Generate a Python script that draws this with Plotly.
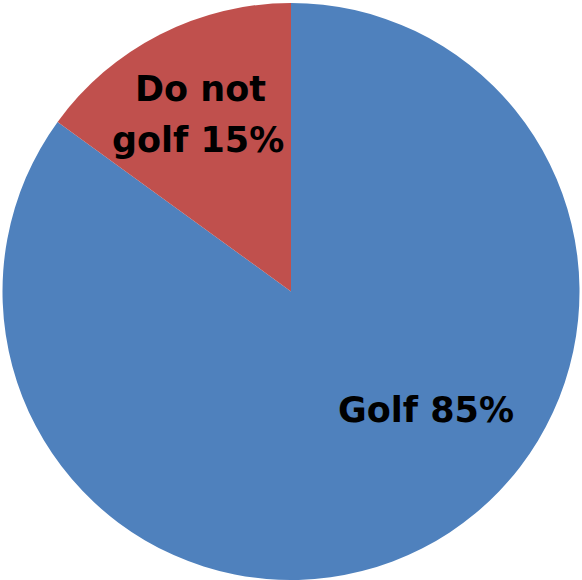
import plotly.graph_objects as go

# Share of respondents who golf
labels = ["Golf", "Do not golf"]
values = [85, 15]
colors = ["#4F81BD", "#C0504D"]

fig = go.Figure(
    go.Pie(
        labels=labels,
        values=values,
        sort=False,
        direction="clockwise",
        rotation=0,
        marker=dict(colors=colors, line=dict(width=0)),
        textinfo="none",
        hoverinfo="label+percent",
        showlegend=False,
    )
)

font = dict(family="DejaVu Sans, sans-serif", size=35, color="black")
W, H = 582, 580

def note(text, px, py):
    fig.add_annotation(
        text=f"<b>{text}</b>", x=px / W, y=1 - py / H,
        xref="paper", yref="paper", showarrow=False,
        font=font, xanchor="center", yanchor="middle",
    )

golf_txt = f"{labels[0]} {values[0]}%"
no_words = labels[1].split(" ")
no_line1 = " ".join(no_words[:2])
no_line2 = f"{no_words[2]} {values[1]}%"

note(golf_txt, 426, 409)
note(no_line1, 200, 86)
note(no_line2, 198, 138)

fig.update_layout(
    width=W, height=H,
    margin=dict(l=0, r=0, t=3, b=0),
    paper_bgcolor="white",
    plot_bgcolor="white",
)

fig.write_html("out.html")
